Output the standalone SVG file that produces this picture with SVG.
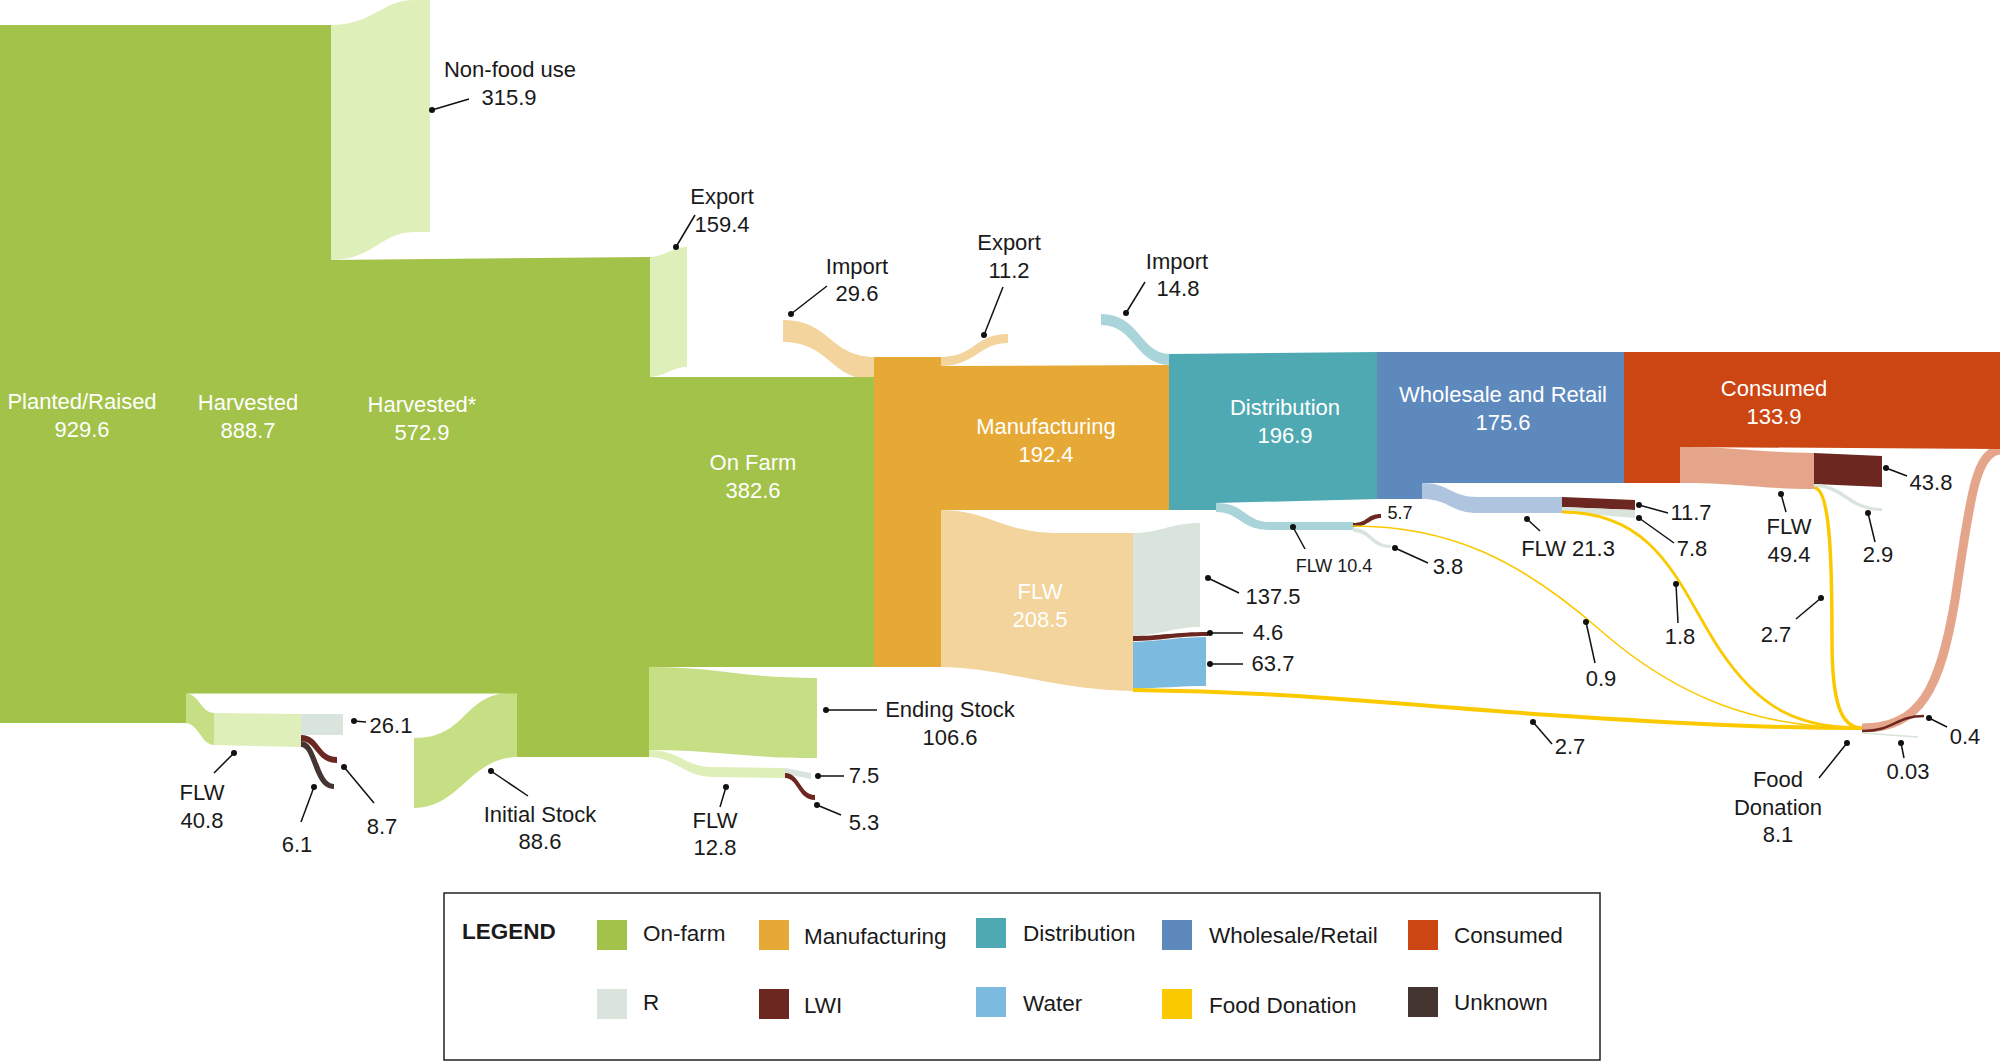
<svg xmlns="http://www.w3.org/2000/svg" width="2000" height="1061" viewBox="0 0 2000 1061">
<style>
text{font-family:"Liberation Sans",Arial,sans-serif;font-size:22px;fill:#1a1a1a;text-anchor:middle}
text.w{fill:#ffffff}
text.s{font-size:18px}
text.lg{text-anchor:start;font-size:22.5px}
.g{fill:#a2c249}.lgr{fill:#dfefb9}.mg{fill:#c6de84}.or{fill:#e6a936}.tan{fill:#f2d49c}
.te{fill:#4fa9b2}.lte{fill:#a9d4da}.bl{fill:#5d89bc}.lbl{fill:#aec4df}.co{fill:#cb4613}
.sal{fill:#e5a58a}.r{fill:#d9e4dc}.lwi{fill:#6b2720}.wa{fill:#7cbbdf}.fdf{fill:#fbc900}.un{fill:#443530}
.fd{fill:none;stroke:#fbc900}
.ld{stroke:#111;stroke-width:1.5;fill:none;marker-start:url(#dot)}
</style>
<defs>
<marker id="dot" markerWidth="8" markerHeight="8" refX="4" refY="4" markerUnits="userSpaceOnUse"><circle cx="4" cy="4" r="3" fill="#111"/></marker>
</defs>
<rect width="2000" height="1061" fill="#ffffff"/>

<g id="flows">
<path class="lgr" d="M329,25 C375,25 380,0 415,0 L430,0 L430,232 L415,232 C380,232 375,260 329,260 Z"/>
<path class="lgr" d="M648,257 C665,257 672,247 687,247 L687,367 C672,367 665,377 648,377 Z"/>
<path class="mg" d="M184,693 C200,693 200,713 215,713 L215,745 C200,745 200,723 184,723 Z"/>
<path class="lgr" d="M214,713 L302,714 L302,747 L214,745 Z"/>
<path class="r" d="M301,714 L343,714 L343,735 L301,735 Z"/>
<path class="lwi" d="M301,735 C320,735 318,757 337,757 L337,763 C316,763 316,741 301,741 Z"/>
<path class="un" d="M301,741 C318,741 318,784 334,784 L334,789 C313,789 313,747 301,747 Z"/>
<path class="mg" d="M414,738 C470,738 460,692 518,692 L518,757 C470,757 460,808 414,808 Z"/>
<path class="mg" d="M648,667 C720,667 740,678 817,678 L817,758 C740,758 720,750 648,750 Z"/>
<path class="lgr" d="M648,750 C680,750 685,767 712,767 L786,768 L786,778 L712,777 C685,777 675,757 648,757 Z"/>
<path class="r" d="M785,768 L811,773 L811,779 L785,774 Z"/>
<path class="lwi" d="M785,773 C800,773 800,795 815,795 L815,800 C798,800 798,778 785,778 Z"/>
<path class="tan" d="M783,320 C830,320 830,357 875,357 L875,380 C830,380 830,342 783,342 Z"/>
<path class="tan" d="M940,357 C975,357 975,334 1008,334 L1008,343 C980,343 975,366 940,366 Z"/>
<path class="tan" d="M940,510 C990,510 1000,533 1060,533 L1134,533 L1134,691 C1060,691 1000,667 940,667 Z"/>
<path class="r" d="M1133,533 C1160,533 1170,523 1200,523 L1200,627 C1175,627 1160,635 1133,636 Z"/>
<path class="lwi" d="M1133,636 C1160,636 1175,632 1208,632 L1208,636 C1175,636 1160,641 1133,641 Z"/>
<path class="wa" d="M1133,642 C1160,641 1180,637 1206,637 L1206,686 C1180,686 1160,688 1133,689 Z"/>
<path class="lte" d="M1101,314 C1140,314 1140,354 1170,354 L1170,365 C1135,365 1135,325 1101,325 Z"/>
<path class="lte" d="M1216,503 C1245,503 1245,522 1270,522 L1354,522 L1354,530 L1270,530 C1240,530 1240,512 1216,512 Z"/>
<path class="lwi" d="M1353,523 C1368,523 1366,514 1381,514 L1381,518 C1370,518 1368,527 1353,527 Z"/>
<path class="r" d="M1353,528 C1372,528 1372,545 1391,545 L1391,548 C1370,548 1370,532 1353,532 Z"/>
<path class="lbl" d="M1422,483 C1450,483 1450,497 1478,497 L1563,497 L1563,513 L1478,513 C1450,513 1450,499 1422,499 Z"/>
<path class="lwi" d="M1562,497 L1635,500 L1635,510 L1562,507 Z"/>
<path class="r" d="M1562,507 L1635,510 L1635,518 L1562,512 Z"/>
<path class="sal" d="M1680,447 C1740,447 1750,452 1815,453 L1815,489 C1760,489 1740,483 1680,483 Z"/>
<path class="lwi" d="M1814,453 L1882,456 L1882,487 L1814,484 Z"/>
<path class="r" d="M1814,484 C1845,484 1850,508 1882,508 L1882,511 C1848,511 1842,487 1814,487 Z"/>
<path class="fd" stroke-width="4" d="M1133,690 C1300,692 1400,705 1550,715 C1700,725 1780,728 1862,728"/>
<path class="fd" stroke-width="1.6" d="M1353,526 C1450,526 1520,560 1600,630 C1680,700 1760,728 1862,728"/>
<path class="fd" stroke-width="2.8" d="M1562,512 C1660,512 1680,590 1720,650 C1760,710 1800,728 1862,728"/>
<path class="fd" stroke-width="3.5" d="M1815,488 C1830,490 1832,560 1832,640 C1832,700 1840,728 1862,728"/>
<path fill="none" stroke="#e5a58a" stroke-width="9" d="M1862,728 C1920,728 1940,690 1955,600 C1970,500 1975,452 2000,450"/>
<path fill="none" stroke="#6b2720" stroke-width="2.5" d="M1862,731 C1895,731 1895,716 1924,716"/>
<path fill="none" stroke="#d9e4dc" stroke-width="1.5" d="M1862,733 L1918,737"/>
</g>

<g id="node-planted"><rect class="g" x="0" y="25" width="186" height="698"/><text class="w" x="82" y="409">Planted/Raised</text><text class="w" x="82" y="437">929.6</text></g>
<g id="node-harvested"><rect class="g" x="185" y="25" width="146" height="668.5"/><text class="w" x="248" y="410">Harvested</text><text class="w" x="248" y="438">888.7</text></g>
<g id="node-harvested-star"><path class="g" d="M330,260 L650,257 L650,378 L518,378 L518,693.5 L330,693.5 Z"/><text class="w" x="422" y="412">Harvested*</text><text class="w" x="422" y="440">572.9</text></g>
<g id="node-onfarm"><path class="g" d="M517,377 L875,377 L875,667 L649,667 L649,757 L517,757 Z"/><text class="w" x="753" y="470">On Farm</text><text class="w" x="753" y="498">382.6</text></g>
<g id="node-manufacturing"><path class="or" d="M874,357 L941,357 L941,366 L1170,365 L1170,510 L941,510 L941,667 L874,667 Z"/><text class="w" x="1046" y="434">Manufacturing</text><text class="w" x="1046" y="462">192.4</text></g>
<g id="node-distribution"><path class="te" d="M1169,354 L1378,352 L1378,499 L1216,503 L1216,510 L1169,510 Z"/><text class="w" x="1285" y="415">Distribution</text><text class="w" x="1285" y="443">196.9</text></g>
<g id="node-wholesale"><path class="bl" d="M1377,352 L1625,352 L1625,483 L1422,483 L1422,499 L1377,499 Z"/><text class="w" x="1503" y="402">Wholesale and Retail</text><text class="w" x="1503" y="430">175.6</text></g>
<g id="node-consumed"><path class="co" d="M1624,352 L2000,352 L2000,449 L1680,447 L1680,483 L1624,483 Z"/><text class="w" x="1774" y="396">Consumed</text><text class="w" x="1774" y="424">133.9</text></g>
<g id="node-flw-manufacturing"><text class="w" x="1040" y="599">FLW</text><text class="w" x="1040" y="627">208.5</text></g>

<g id="leaders">
<line class="ld" x1="432" y1="110" x2="469" y2="99"/>
<line class="ld" x1="676" y1="247" x2="695" y2="215"/>
<line class="ld" x1="791" y1="314" x2="827" y2="286"/>
<line class="ld" x1="984" y1="335" x2="1003" y2="287"/>
<line class="ld" x1="1126" y1="313" x2="1145" y2="282"/>
<line class="ld" x1="826" y1="710" x2="877" y2="710"/>
<line class="ld" x1="491" y1="771" x2="528" y2="796"/>
<line class="ld" x1="726" y1="787" x2="720" y2="807"/>
<line class="ld" x1="818" y1="776" x2="844" y2="776"/>
<line class="ld" x1="817" y1="805" x2="841" y2="815"/>
<line class="ld" x1="234" y1="753" x2="214" y2="773"/>
<line class="ld" x1="314" y1="787" x2="301" y2="822"/>
<line class="ld" x1="344" y1="767" x2="374" y2="803"/>
<line class="ld" x1="354" y1="721" x2="366" y2="722"/>
<line class="ld" x1="1208" y1="578" x2="1239" y2="593"/>
<line class="ld" x1="1210" y1="633" x2="1243" y2="633"/>
<line class="ld" x1="1210" y1="664" x2="1243" y2="664"/>
<line class="ld" x1="1293" y1="527" x2="1305" y2="549"/>
<line class="ld" x1="1395" y1="548" x2="1428" y2="563"/>
<line class="ld" x1="1527" y1="519" x2="1540" y2="531"/>
<line class="ld" x1="1639" y1="505" x2="1668" y2="513"/>
<line class="ld" x1="1639" y1="518" x2="1674" y2="543"/>
<line class="ld" x1="1781" y1="494" x2="1786" y2="512"/>
<line class="ld" x1="1886" y1="468" x2="1907" y2="476"/>
<line class="ld" x1="1868" y1="513" x2="1875" y2="542"/>
<line class="ld" x1="1586" y1="622" x2="1595" y2="663"/>
<line class="ld" x1="1676" y1="584" x2="1678" y2="623"/>
<line class="ld" x1="1821" y1="598" x2="1796" y2="619"/>
<line class="ld" x1="1533" y1="722" x2="1552" y2="744"/>
<line class="ld" x1="1929" y1="718" x2="1947" y2="727"/>
<line class="ld" x1="1901" y1="743" x2="1904" y2="758"/>
<line class="ld" x1="1847" y1="743" x2="1819" y2="778"/>
</g>

<g id="labels">
<text x="510" y="77">Non-food use</text><text x="509" y="105">315.9</text>
<text x="722" y="204">Export</text><text x="722" y="232">159.4</text>
<text x="857" y="274">Import</text><text x="857" y="301">29.6</text>
<text x="1009" y="250">Export</text><text x="1009" y="278">11.2</text>
<text x="1177" y="269">Import</text><text x="1178" y="296">14.8</text>
<text x="950" y="717">Ending Stock</text><text x="950" y="745">106.6</text>
<text x="540" y="822">Initial Stock</text><text x="540" y="849">88.6</text>
<text x="715" y="828">FLW</text><text x="715" y="855">12.8</text>
<text x="864" y="783">7.5</text>
<text x="864" y="830">5.3</text>
<text x="202" y="800">FLW</text><text x="202" y="828">40.8</text>
<text x="297" y="852">6.1</text>
<text x="382" y="834">8.7</text>
<text x="391" y="733">26.1</text>
<text x="1273" y="604">137.5</text>
<text x="1268" y="640">4.6</text>
<text x="1273" y="671">63.7</text>
<text class="s" x="1400" y="519">5.7</text>
<text class="s" x="1334" y="572">FLW 10.4</text>
<text x="1448" y="574">3.8</text>
<text x="1568" y="556">FLW 21.3</text>
<text x="1691" y="520">11.7</text>
<text x="1692" y="556">7.8</text>
<text x="1789" y="534">FLW</text><text x="1789" y="562">49.4</text>
<text x="1931" y="490">43.8</text>
<text x="1878" y="562">2.9</text>
<text x="1601" y="686">0.9</text>
<text x="1680" y="644">1.8</text>
<text x="1776" y="642">2.7</text>
<text x="1570" y="754">2.7</text>
<text x="1965" y="744">0.4</text>
<text x="1908" y="779">0.03</text>
<text x="1778" y="787">Food</text><text x="1778" y="815">Donation</text><text x="1778" y="842">8.1</text>
</g>

<g id="legend">
<rect x="444" y="893" width="1156" height="167" fill="none" stroke="#222" stroke-width="1.5"/>
<text class="lg" x="462" y="939" font-weight="bold">LEGEND</text>
<rect class="g" x="597" y="920" width="30" height="30"/><text class="lg" x="643" y="941">On-farm</text>
<rect class="or" x="759" y="920" width="30" height="30"/><text class="lg" x="804" y="944">Manufacturing</text>
<rect class="te" x="976" y="918" width="30" height="30"/><text class="lg" x="1023" y="941">Distribution</text>
<rect class="bl" x="1162" y="920" width="30" height="30"/><text class="lg" x="1209" y="943">Wholesale/Retail</text>
<rect class="co" x="1408" y="920" width="30" height="30"/><text class="lg" x="1454" y="943">Consumed</text>
<rect class="r" x="597" y="989" width="30" height="30"/><text class="lg" x="643" y="1010">R</text>
<rect class="lwi" x="759" y="989" width="30" height="30"/><text class="lg" x="804" y="1013">LWI</text>
<rect class="wa" x="976" y="987" width="30" height="30"/><text class="lg" x="1023" y="1011">Water</text>
<rect class="fdf" x="1162" y="989" width="30" height="30"/><text class="lg" x="1209" y="1013">Food Donation</text>
<rect class="un" x="1408" y="987" width="30" height="30"/><text class="lg" x="1454" y="1010">Unknown</text>
</g>
</svg>
